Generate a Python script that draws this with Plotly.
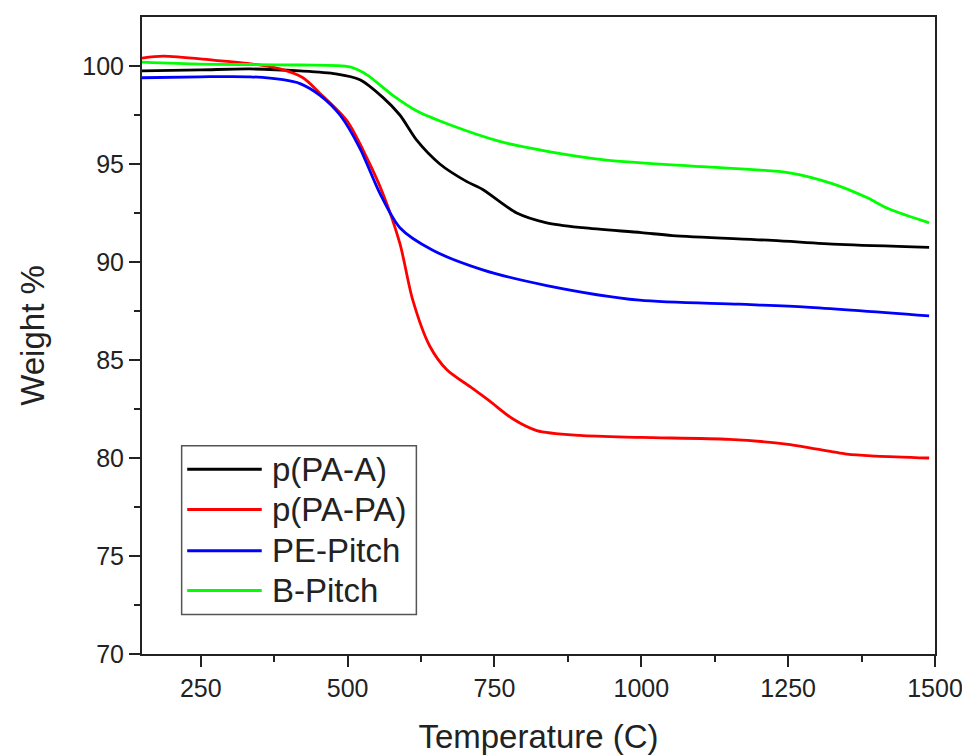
import plotly.graph_objects as go

# ---- data ----
names = ["p(PA-A)", "p(PA-PA)", "PE-Pitch", "B-Pitch"]
colors = ["#000000", "#FF0000", "#0000FF", "#00FF00"]

t_paa = [150, 250, 334, 419, 480, 521, 560, 589, 618, 657, 703, 730, 788, 839, 900, 1000, 1053, 1223, 1337, 1490]
w_paa = [99.75, 99.8, 99.85, 99.75, 99.6, 99.3, 98.4, 97.5, 96.2, 95.0, 94.1, 93.7, 92.5, 92.0, 91.75, 91.5, 91.35, 91.1, 90.9, 90.75]

t_papa = [150, 186, 271, 339, 385, 424, 453, 499, 533, 560, 589, 611, 640, 669, 708, 742, 781, 822, 895, 1000, 1150, 1250, 1350, 1400, 1490]
w_papa = [100.4, 100.5, 100.3, 100.1, 99.85, 99.4, 98.6, 97.2, 95.3, 93.5, 90.95, 88.05, 85.7, 84.5, 83.65, 82.9, 82.0, 81.4, 81.15, 81.05, 80.95, 80.7, 80.2, 80.1, 80.0]

t_pe = [150, 250, 334, 390, 419, 453, 487, 521, 555, 589, 645, 730, 839, 997, 1167, 1281, 1490]
w_pe = [99.4, 99.45, 99.45, 99.3, 99.1, 98.5, 97.5, 95.8, 93.5, 91.75, 90.6, 89.6, 88.8, 88.05, 87.85, 87.7, 87.25]

t_b = [150, 250, 419, 504, 533, 577, 618, 674, 759, 840, 941, 1111, 1252, 1325, 1383, 1422, 1490]
w_b = [100.2, 100.1, 100.05, 99.95, 99.55, 98.5, 97.7, 97.0, 96.15, 95.65, 95.2, 94.85, 94.55, 94.0, 93.3, 92.7, 92.0]

x_ticks = [250, 500, 750, 1000, 1250, 1500]
y_ticks = [70, 75, 80, 85, 90, 95, 100]

series = [(t_paa, w_paa), (t_papa, w_papa), (t_pe, w_pe), (t_b, w_b)]

FONT = "Liberation Sans, Arial, sans-serif"
TXT = "#222222"

fig = go.Figure()
for (tx, wy), nm, col in zip(series, names, colors):
    fig.add_trace(go.Scatter(x=tx, y=wy, name=nm, mode="lines",
                             line=dict(color=col, width=2.8, shape="spline", smoothing=0.8),
                             showlegend=False))

axis_common = dict(showline=True, linecolor="#222222", linewidth=2, mirror=True,
                   ticks="outside", ticklen=11, tickwidth=2, tickcolor="#222222",
                   showgrid=False, zeroline=False,
                   tickfont=dict(family=FONT, size=25, color=TXT))

fig.update_xaxes(range=[150, 1500], tickmode="array", tickvals=x_ticks,
                 ticktext=[str(v) for v in x_ticks],
                 minor=dict(ticks="outside", ticklen=6, tickwidth=2, tickcolor="#222222",
                            tickmode="array", tickvals=[375, 625, 875, 1125, 1375]),
                 title=dict(text="Temperature (C)", font=dict(family=FONT, size=33, color=TXT), standoff=24),
                 **axis_common)
fig.update_yaxes(range=[70, 102.5], tickmode="array", tickvals=y_ticks,
                 ticktext=[str(v) for v in y_ticks],
                 minor=dict(ticks="outside", ticklen=6, tickwidth=2, tickcolor="#222222",
                            tickmode="array", tickvals=[72.5, 77.5, 82.5, 87.5, 92.5, 97.5]),
                 title=dict(text="Weight %", font=dict(family=FONT, size=33, color=TXT), standoff=28),
                 **axis_common)

# ---- manual legend (box, line samples, labels) ----
shapes = [dict(type="rect", xref="x domain", yref="y domain", x0=0.050, x1=0.346, y0=0.062, y1=0.327,
               line=dict(color="#555555", width=1.5), fillcolor="white", layer="above")]
annotations = []
rows = [0.290, 0.227, 0.162, 0.0997]
for nm, col, yy in zip(names, colors, rows):
    shapes.append(dict(type="line", xref="x domain", yref="y domain", x0=0.057, x1=0.151, y0=yy, y1=yy,
                       line=dict(color=col, width=3), layer="above"))
    annotations.append(dict(xref="x domain", yref="y domain", x=0.161, y=yy, text=nm, showarrow=False,
                            xanchor="left", yanchor="middle",
                            font=dict(family=FONT, size=33, color=TXT)))

fig.update_layout(width=962, height=748, margin=dict(l=134, r=33, t=7, b=99),
                  paper_bgcolor="white", plot_bgcolor="white",
                  shapes=shapes, annotations=annotations,
                  font=dict(family=FONT, color=TXT))

fig.write_html("out.html")
